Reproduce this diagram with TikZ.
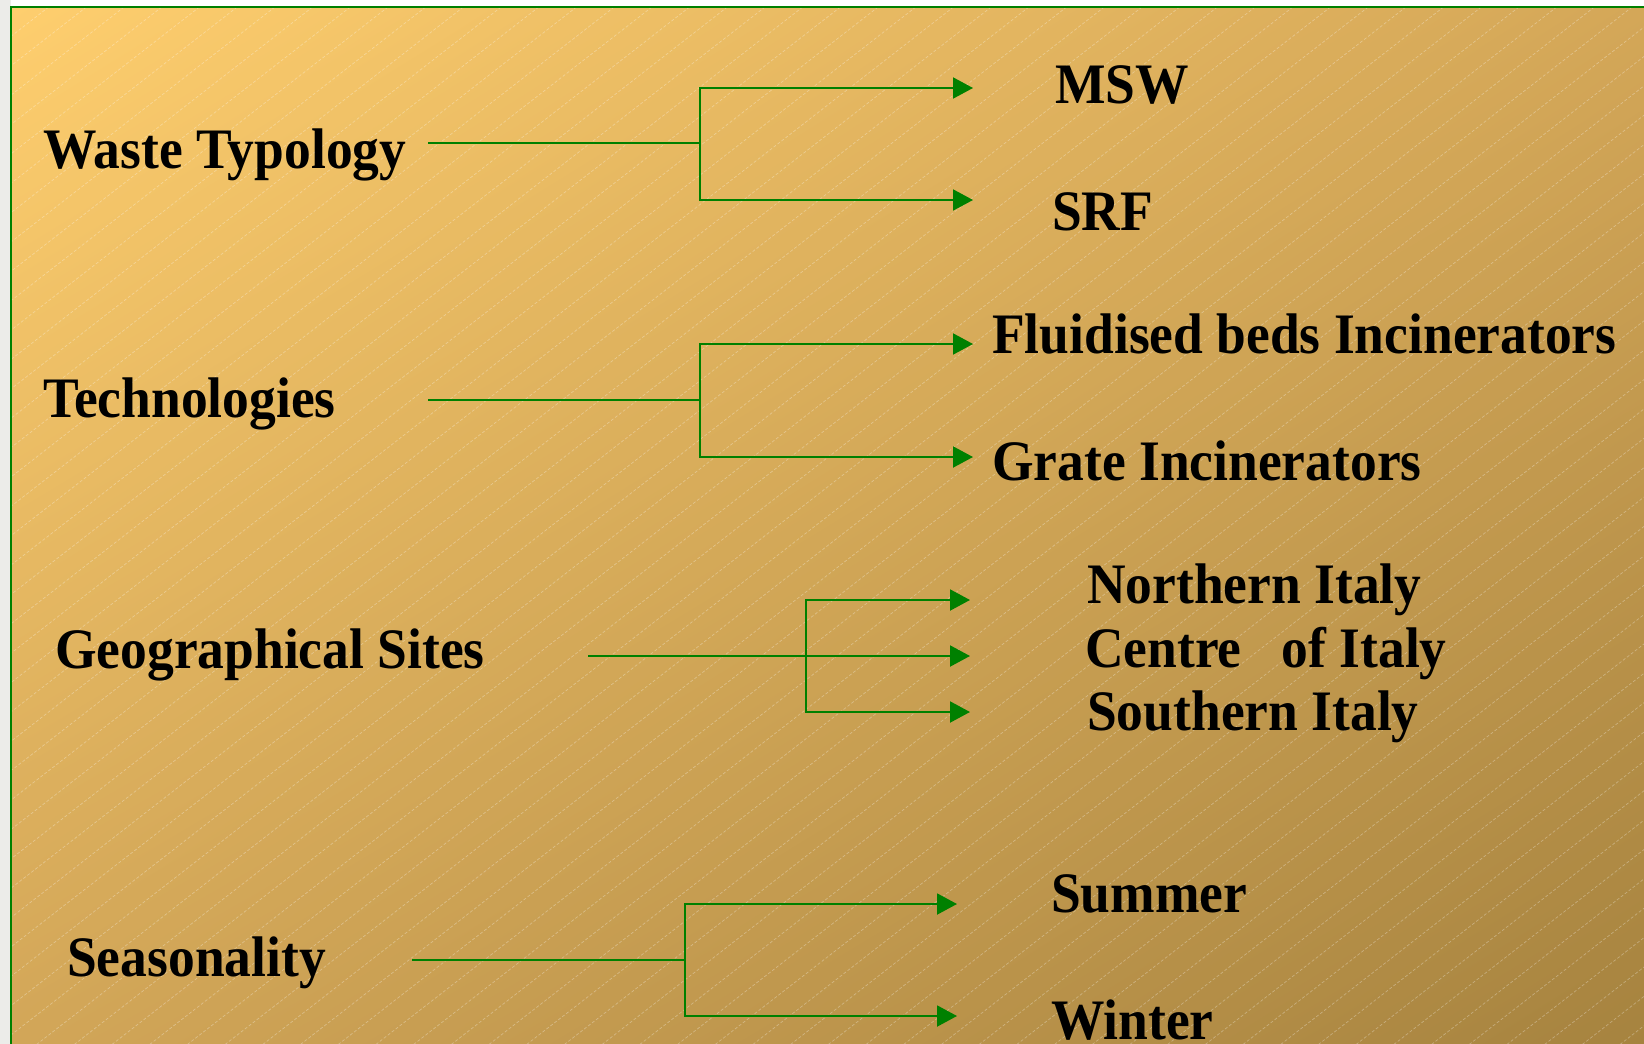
\documentclass[tikz,border=0pt]{standalone}
\usepackage{graphicx}
\usepackage{fontspec}
\setmainfont{Liberation Serif}
\usetikzlibrary{arrows.meta,shadings}

\definecolor{boxgreen}{RGB}{0,128,0}
\definecolor{sandtl}{RGB}{254,206,110}
\definecolor{sandtr}{RGB}{212,167,88}
\definecolor{sandbl}{RGB}{210,166,88}
\definecolor{sandbr}{RGB}{166,131,63}
\definecolor{stripgrey}{RGB}{236,236,233}

\newcommand{\tallbox}[1]{\scalebox{1}[1.07]{#1}}

\tikzset{
  lbl/.style={anchor=base west, inner sep=0pt, font=\fontsize{53.5}{60}\selectfont\bfseries},
  link/.style={draw=boxgreen, line width=2pt},
  arr/.style={link, -{Triangle[length=20pt,width=21pt]}},
  hatch/.style={white, opacity=0.3, line width=0.7pt, dash pattern=on 3pt off 2pt}
}

\begin{document}
\begin{tikzpicture}[x=1pt, y=-1pt]
  \useasboundingbox (0,0) rectangle (1644,1044);
  \fill[white] (0,0) rectangle (1644,1044);
  \fill[stripgrey] (0,0) rectangle (11,1044);
  \shade[upper left=sandtl, upper right=sandtr, lower left=sandbl, lower right=sandbr]
    (11,7) rectangle (1644,1044);
  \begin{scope}
    \clip (11,7) rectangle (1644,1044);
    \foreach \k in {0,...,80}
      \draw[hatch] (11+37.7*\k,7) -- ++(-1340,1044);
  \end{scope}
  \draw[boxgreen, line width=2pt] (1660,7) -- (11,7) -- (11,1060);

  \node[lbl] (wt) at (43,168) {\tallbox{Waste Typology}};
  \node[lbl] (msw) at (1055,103) {\tallbox{MSW}};
  \node[lbl] (srf) at (1052,230) {\tallbox{SRF}};

  \node[lbl] (tech) at (43,417) {\tallbox{Technologies}};
  \node[lbl] (fbi) at (992,353) {\tallbox{Fluidised beds Incinerators}};
  \node[lbl] (grate) at (992,480) {\tallbox{Grate Incinerators}};

  \node[lbl] (geo) at (55,668) {\tallbox{Geographical Sites}};
  \node[lbl] (north) at (1087,603) {\tallbox{Northern Italy}};
  \node[lbl] (centre) at (1085,667) {\tallbox{Centre~~~of Italy}};
  \node[lbl] (south) at (1087,730) {\tallbox{Southern Italy}};

  \node[lbl] (seas) at (67,976) {\tallbox{Seasonality}};
  \node[lbl] (summer) at (1051,912) {\tallbox{Summer}};
  \node[lbl] (winter) at (1051,1039) {\tallbox{Winter}};

  \coordinate (wt-o) at (428,143);   \coordinate (wt-j) at (700,143);
  \coordinate (msw-i) at (973,88);   \coordinate (srf-i) at (973,200);
  \coordinate (tech-o) at (428,400); \coordinate (tech-j) at (700,400);
  \coordinate (fbi-i) at (973,344);  \coordinate (grate-i) at (973,457);
  \coordinate (geo-o) at (588,656);  \coordinate (geo-j) at (806,656);
  \coordinate (north-i) at (970,600); \coordinate (centre-i) at (970,656);
  \coordinate (south-i) at (970,712);
  \coordinate (seas-o) at (412,960); \coordinate (seas-j) at (685,960);
  \coordinate (summer-i) at (957,904); \coordinate (winter-i) at (957,1016);

  \foreach \g in {wt,tech,geo,seas}
    \draw[link] (\g-o) -- (\g-j);
  \foreach \g/\t in {wt/msw,wt/srf,tech/fbi,tech/grate,geo/north,geo/south,seas/summer,seas/winter}
    \draw[arr] (\g-j) |- (\t-i);
  \draw[arr] (geo-j) -- (centre-i);
\end{tikzpicture}
\end{document}
